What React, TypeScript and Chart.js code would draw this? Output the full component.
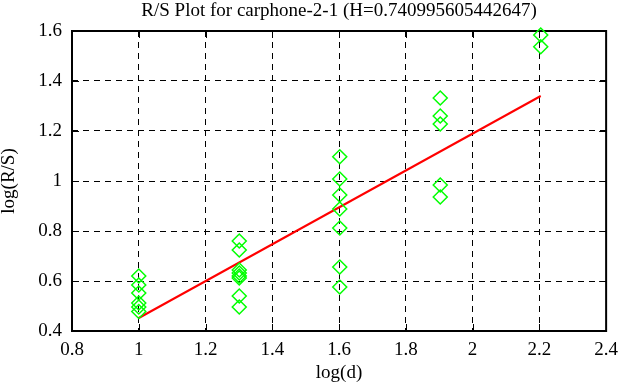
import React, { useEffect, useRef } from "react";
import { Chart, registerables } from "chart.js";

Chart.register(...registerables);

// R/S samples: log(d) and log(R/S) pairs
const logD = [
  1, 1, 1, 1, 1, 1,
  1.30103, 1.30103, 1.30103, 1.30103, 1.30103, 1.30103, 1.30103, 1.30103,
  1.60206, 1.60206, 1.60206, 1.60206, 1.60206, 1.60206, 1.60206,
  1.90309, 1.90309, 1.90309, 1.90309, 1.90309,
  2.20412, 2.20412,
];
const logRS = [
  0.62, 0.584, 0.552, 0.512, 0.496, 0.478,
  0.76, 0.724, 0.644, 0.632, 0.62, 0.612, 0.54, 0.496,
  1.097, 1.008, 0.944, 0.888, 0.812, 0.656, 0.576,
  1.332, 1.26, 1.228, 0.984, 0.936,
  1.584, 1.537,
];
// Fitted regression line
const fitX = [1, 2.20412];
const fitY = [0.452, 1.34];

const xTicks = [0.8, 1, 1.2, 1.4, 1.6, 1.8, 2, 2.2, 2.4];
const yTicks = [0.4, 0.6, 0.8, 1, 1.2, 1.4, 1.6];

const titleText = "R/S Plot for carphone-2-1 (H=0.740995605442647)";
const xTitle = "log(d)";
const yTitle = "log(R/S)";

const FONT = "'Liberation Serif', 'DejaVu Serif', serif";

const framePlugin = {
  id: "gnuFrame",
  beforeDatasetsDraw(chart: any) {
    const { ctx, chartArea, scales } = chart;
    const { left, right, top, bottom } = chartArea;
    ctx.save();
    ctx.strokeStyle = "#000";
    ctx.lineWidth = 1;
    ctx.setLineDash([]);
    const tl = 7;
    ctx.beginPath();
    for (const v of xTicks) {
      const px = Math.round(scales.x.getPixelForValue(v)) + 0.5;
      ctx.moveTo(px, bottom);
      ctx.lineTo(px, bottom - tl);
      ctx.moveTo(px, top);
      ctx.lineTo(px, top + tl);
    }
    for (const v of yTicks) {
      const py = Math.round(scales.y.getPixelForValue(v)) + 0.5;
      ctx.moveTo(left, py);
      ctx.lineTo(left + tl, py);
      ctx.moveTo(right, py);
      ctx.lineTo(right - tl, py);
    }
    ctx.stroke();
    ctx.lineWidth = 2;
    ctx.strokeRect(left, top, right - left, bottom - top);
    ctx.restore();
  },
};

export default function App() {
  const ref = useRef<HTMLCanvasElement | null>(null);
  useEffect(() => {
    document.body.style.margin = "0";
    const canvas = ref.current;
    if (!canvas) return;
    const points = logD.map((x, i) => ({ x, y: logRS[i] }));
    const fit = fitX.map((x, i) => ({ x, y: fitY[i] }));
    const fmt = (v: any) => String(Math.round(Number(v) * 10) / 10);
    const chart = new Chart(canvas, {
      type: "scatter",
      data: {
        datasets: [
          {
            label: "fit",
            data: fit,
            showLine: true,
            borderColor: "#ff0000",
            backgroundColor: "#ff0000",
            borderWidth: 2,
            pointRadius: 0,
            order: 2,
          },
          {
            label: "R/S",
            data: points,
            pointStyle: "rectRot",
            pointRadius: 7,
            pointBorderWidth: 1.5,
            borderColor: "#00ff00",
            backgroundColor: "rgba(0,0,0,0)",
            clip: false,
            order: 1,
          } as any,
        ],
      },
      plugins: [framePlugin],
      options: {
        animation: false,
        responsive: false,
        devicePixelRatio: 1,
        layout: { padding: { top: 0, right: 16, bottom: 0, left: 0 } },
        plugins: {
          legend: { display: false },
          tooltip: { enabled: false },
          title: {
            display: true,
            text: titleText,
            fullSize: false,
            color: "#000",
            font: { family: FONT, size: 19, weight: "normal", lineHeight: 1.2 },
            padding: { top: 0, bottom: 8.2 },
          },
        },
        scales: {
          x: {
            type: "linear",
            min: 0.8,
            max: 2.4,
            afterFit: (s: any) => {
              s.height = 56;
            },
            ticks: {
              stepSize: 0.2,
              color: "#000",
              padding: 8,
              maxRotation: 0,
              autoSkip: false,
              font: { family: FONT, size: 19 },
              callback: fmt,
            },
            grid: { color: "#000", lineWidth: 1, drawTicks: false, tickLength: 0 },
            border: { display: false, dash: [6, 5] },
            title: {
              display: true,
              text: xTitle,
              color: "#000",
              font: { family: FONT, size: 19, lineHeight: 1.2 },
              padding: { top: 0, bottom: 3 },
            },
          },
          y: {
            type: "linear",
            min: 0.4,
            max: 1.6,
            afterFit: (s: any) => {
              s.width = 72;
            },
            ticks: {
              stepSize: 0.2,
              color: "#000",
              padding: 10,
              autoSkip: false,
              font: { family: FONT, size: 19 },
              callback: fmt,
            },
            grid: { color: "#000", lineWidth: 1, drawTicks: false, tickLength: 0 },
            border: { display: false, dash: [6, 5] },
            title: {
              display: true,
              text: yTitle,
              color: "#000",
              font: { family: FONT, size: 19, lineHeight: 1.0 },
              padding: { top: 0, bottom: 0 },
            },
          },
        },
      } as any,
    });
    return () => chart.destroy();
  }, []);
  return (
    <div style={{ position: "fixed", left: 0, top: 0, width: 626, height: 387, background: "#fff" }}>
      <canvas ref={ref} width={626} height={387} style={{ width: 626, height: 387, display: "block" }} />
    </div>
  );
}
